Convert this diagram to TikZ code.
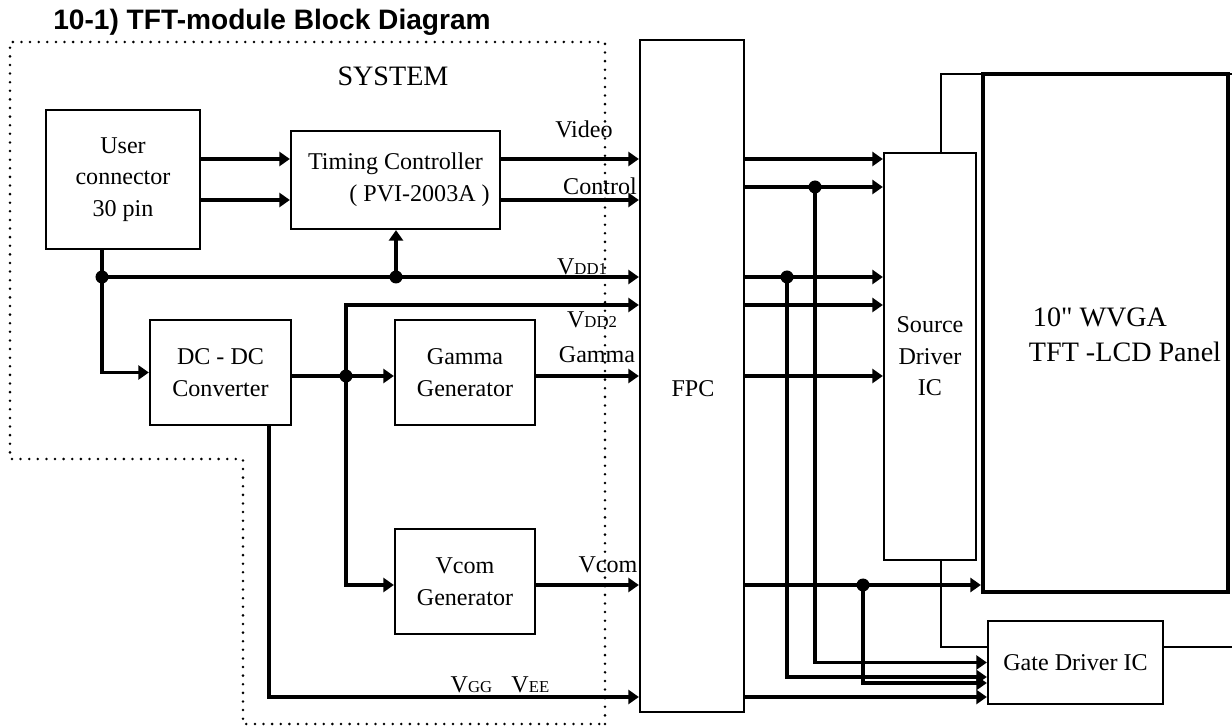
\documentclass[tikz,border=0pt]{standalone}
\usepackage{fontspec}
\setmainfont{Liberation Serif}
\newfontfamily\arialfont{Liberation Sans}
\usetikzlibrary{arrows.meta}
\newcommand{\subcap}[1]{{\fontsize{9.5}{10}\selectfont #1}}

\begin{document}
\begin{tikzpicture}[x=0.02cm, y=-0.02cm,
  font=\fontsize{13.7}{18}\selectfont,
  box/.style 2 args={draw, line width=1.3pt, inner sep=0pt, align=center,
    minimum width=#1*0.02cm, minimum height=#2*0.02cm},
  sig/.style={line width=2pt, -{Triangle[length=6pt,width=8pt]}},
  wire/.style={line width=2pt},
  thinwire/.style={line width=1.3pt},
  lbl/.style={anchor=base, inner sep=0pt},
  big/.style={font=\fontsize{16}{19}\selectfont}]
  \useasboundingbox (0,0) rectangle (1232,726);

  % title
  \node[anchor=base west, inner sep=0pt,
    font=\arialfont\bfseries\fontsize{16}{19}\selectfont] (title) at (53,30)
    {10-1) TFT-module Block Diagram};

  % system boundary (dotted)
  \draw[line width=1.6pt, dash pattern=on 0pt off 4.9pt, line cap=round]
    (605,724) -- (605,42) -- (10,42) -- (10,459) -- (243,459) -- (243,724) -- cycle;
  \node[big, lbl] (syslbl) at (393,86) {SYSTEM};

  % blocks
  \node[box={154}{139}] (user) at (123,179.5) {User\\connector\\30 pin};
  \node[box={209}{98}] (tc) at (395.5,180) {Timing Controller\\\hspace*{2em}( PVI-2003A )};
  \node[box={141}{105}] (dcdc) at (220.5,372.5) {DC - DC\\Converter};
  \node[box={140}{105}] (gam) at (465,372.5) {Gamma\\Generator};
  \node[box={140}{105}] (vcom) at (465,581.5) {Vcom\\Generator};
  \node[box={104}{672}] (fpc) at (692,376) {};
  \node (fpclbl) at (693,389) {FPC};
  \node[box={92}{407}] (src) at (930,356.5) {Source\\Driver\\IC};
  \node[box={245}{518}, line width=2.4pt] (panel) at (1105.5,333) {};
  \node[big, lbl] (pnlone) at (1100,327) {10\textquotedbl\ WVGA};
  \node[big, lbl] (pnltwo) at (1125,362) {TFT -LCD Panel};
  \node[box={175}{83}] (gate) at (1075.5,662.5) {Gate Driver IC};

  % signal names
  \node[lbl] (lvideo) at (584,138) {Video};
  \node[lbl] (lctrl) at (600,195) {Control};
  \node[lbl] (lvddone) at (582,275) {V\subcap{DD1}};
  \node[lbl] (lvddtwo) at (592,328) {V\subcap{DD2}};
  \node[lbl] (lgamma) at (597,363) {Gamma};
  \node[lbl] (lvcom) at (608,573) {Vcom};
  \node[lbl] (lvgg) at (500,692) {V\subcap{GG}\hspace{0.8em}V\subcap{EE}};

  % junctions and bends
  \coordinate (j1) at (102,277);
  \coordinate (j2) at (396,277);
  \coordinate (j3) at (346,376);
  \coordinate (j4) at (815,187);
  \coordinate (j5) at (787,277);
  \coordinate (j6) at (863,585);
  \coordinate (yvid) at (0,159);
  \coordinate (yctl) at (0,200);
  \coordinate (vddtwo) at (346,305);
  \coordinate (dcbend) at (269,697);
  \coordinate (gintwo) at (0,677);
  \coordinate (ginthree) at (0,683);
  \coordinate (srctop) at (941,74);
  \coordinate (srcbot) at (941,647);
  \coordinate (edgetop) at (1232,74);
  \coordinate (edgegate) at (1232,647);

  % user connector -> timing controller -> FPC
  \draw[sig] (user.east |- yvid) -- (tc.west |- yvid);
  \draw[sig] (user.east |- yctl) -- (tc.west |- yctl);
  \draw[sig] (tc.east |- yvid) -- (fpc.west |- yvid);
  \draw[sig] (tc.east |- yctl) -- (fpc.west |- yctl);

  % VDD1 and supply to DC-DC
  \draw[wire] (j1 |- user.south) -- (j1);
  \draw[sig] (j1) |- (dcdc.west);
  \draw[sig] (j1) -- (fpc.west |- j1);
  \draw[sig] (j2) -- (j2 |- tc.south);

  % DC-DC outputs
  \draw[wire] (dcdc.east |- j3) -- (j3);
  \draw[sig] (j3) -- (gam.west |- j3);
  \draw[sig] (j3) |- (fpc.west |- vddtwo);
  \draw[sig] (j3) |- (vcom.west |- j6);
  \draw[sig] (gam.east |- j3) -- (fpc.west |- j3);
  \draw[sig] (vcom.east |- j6) -- (fpc.west |- j6);
  \draw[sig] (dcdc.south -| dcbend) -- (dcbend) -- (fpc.west |- dcbend);

  % FPC -> source driver
  \draw[sig] (fpc.east |- yvid) -- (src.west |- yvid);
  \draw[sig] (fpc.east |- j4) -- (src.west |- j4);
  \draw[sig] (fpc.east |- j5) -- (src.west |- j5);
  \draw[sig] (fpc.east |- vddtwo) -- (src.west |- vddtwo);
  \draw[sig] (fpc.east |- j3) -- (src.west |- j3);

  % FPC -> panel and gate driver
  \draw[sig] (fpc.east |- j6) -- (panel.west |- j6);
  \draw[sig] (j4) |- (gate.west);
  \draw[sig] (j5) |- (gate.west |- gintwo);
  \draw[sig] (j6) |- (gate.west |- ginthree);
  \draw[sig] (fpc.east |- dcbend) -- (gate.west |- dcbend);

  % driver outputs
  \draw[thinwire] (src.north -| srctop) -- (srctop) -- (edgetop);
  \draw[thinwire] (src.south -| srcbot) |- (gate.west |- srcbot);
  \draw[thinwire] (gate.east |- edgegate) -- (edgegate);

  \foreach \j in {1,...,6}
    \fill (j\j) circle[radius=3.7pt];
\end{tikzpicture}
\end{document}
